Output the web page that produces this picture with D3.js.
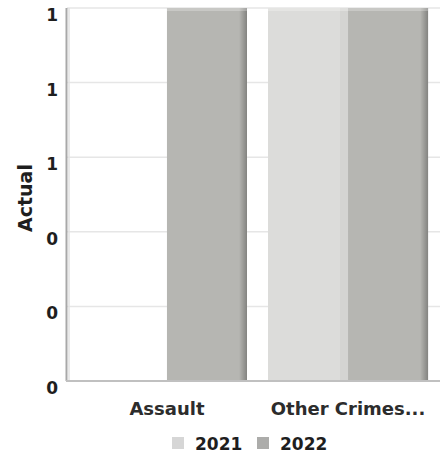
<!DOCTYPE html>
<html>
<head>
<meta charset="utf-8">
<script src="https://cdn.jsdelivr.net/npm/d3@7"></script>
<style>
  html, body { margin: 0; padding: 0; background: #fff; }
  svg { display: block; }
  text { font-family: "DejaVu Sans", Verdana, sans-serif; fill: #222; }
</style>
</head>
<body>
<svg id="chart" width="445" height="460"></svg>
<script>
// Crime counts per category, one series per year
const categories = ["Assault", "Other Crimes..."];
const years = ["2021", "2022"];
const values2021 = [0, 1];
const values2022 = [1, 1];
const yTicks = [0, 0.2, 0.4, 0.6, 0.8, 1];
const yTitle = "Actual";

const colors = { "2021": "#dcdcda", "2022": "#b6b6b2" };
const edges = { "2021": "#cbcbc9", "2022": "#8e8e8a" };
const swatch = { "2021": "#d6d6d6", "2022": "#acacaa" };

const svg = d3.select("#chart");
const margin = { top: 8, right: 5, bottom: 79, left: 67 };
const W = 445, H = 460;
const iw = W - margin.left - margin.right;
const ih = H - margin.top - margin.bottom;

const defs = svg.append("defs");
const grad = defs.append("linearGradient").attr("id", "edgeShade").attr("x1", 0).attr("x2", 1);
grad.append("stop").attr("offset", 0).attr("stop-color", "#000").attr("stop-opacity", 0);
grad.append("stop").attr("offset", 1).attr("stop-color", "#000").attr("stop-opacity", 0.28);

const g = svg.append("g").attr("transform", `translate(${margin.left},${margin.top})`);

const x0 = d3.scaleBand().domain(categories).range([0, iw + 8]).paddingInner(0.116).paddingOuter(0.11);
const x1 = d3.scaleBand().domain(years).range([0, x0.bandwidth()]).padding(0);
const y = d3.scaleLinear().domain([0, 1]).range([ih, 0]);

// gridlines
g.append("g").selectAll("line").data(yTicks.slice(1)).join("line")
  .attr("x1", 0).attr("x2", iw)
  .attr("y1", d => y(d)).attr("y2", d => y(d))
  .attr("stroke", "#e6e6e6").attr("stroke-width", 1.5);

// bars
const rows = categories.map((c, i) => ({ cat: c, vals: [
  { year: "2021", v: values2021[i] },
  { year: "2022", v: values2022[i] }
]}));

const groups = g.append("g").selectAll("g").data(rows).join("g")
  .attr("transform", d => `translate(${x0(d.cat)},0)`);

groups.selectAll("rect.bar").data(d => d.vals.filter(o => o.v > 0)).join("rect")
  .attr("class", "bar")
  .attr("x", d => x1(d.year))
  .attr("y", d => y(d.v))
  .attr("width", x1.bandwidth())
  .attr("height", d => y(0) - y(d.v))
  .attr("fill", d => colors[d.year]);

// darker shading along the right edge of each bar
groups.selectAll("rect.edge").data(d => d.vals.filter(o => o.v > 0)).join("rect")
  .attr("class", "edge")
  .attr("x", d => x1(d.year) + x1.bandwidth() - 8)
  .attr("y", d => y(d.v))
  .attr("width", 8)
  .attr("height", d => y(0) - y(d.v))
  .attr("fill", d => d.year === "2022" ? "url(#edgeShade)" : edges[d.year])
  .attr("opacity", d => d.year === "2022" ? 1 : 0.5);

// lighter top rim of each bar
groups.selectAll("rect.rim").data(d => d.vals.filter(o => o.v > 0)).join("rect")
  .attr("class", "rim")
  .attr("x", d => x1(d.year))
  .attr("y", d => y(d.v))
  .attr("width", x1.bandwidth())
  .attr("height", 3)
  .attr("fill", "#fff").attr("opacity", 0.25);

// y axis
const yAxis = d3.axisLeft(y).tickValues(yTicks).tickFormat(d3.format(".0f")).tickSize(0).tickPadding(9);
const ya = g.append("g").call(yAxis);
ya.select(".domain").remove();
ya.selectAll("text")
  .attr("dy", "0.32em").attr("y", 7)
  .style("font-size", "17px").style("font-weight", "bold").style("fill", "#1e1e1e");
g.append("line").attr("x1", -0.5).attr("x2", -0.5).attr("y1", 0).attr("y2", ih)
  .attr("stroke", "#a8a8a8").attr("stroke-width", 2);
g.append("line").attr("x1", 2).attr("x2", 2).attr("y1", 0).attr("y2", ih)
  .attr("stroke", "#e2e2e2").attr("stroke-width", 1.5);

// x axis
const xAxis = d3.axisBottom(x0).tickSize(0).tickPadding(21);
const xa = g.append("g").attr("transform", `translate(0,${ih})`).call(xAxis);
xa.select(".domain").remove();
xa.selectAll("text").style("font-size", "18px").style("font-weight", "bold").style("fill", "#2c2c2c");
g.append("line").attr("x1", -1).attr("x2", iw).attr("y1", ih).attr("y2", ih)
  .attr("stroke", "#c0c0c0").attr("stroke-width", 2);

// y title
svg.append("text")
  .attr("transform", `translate(32,198) rotate(-90)`)
  .attr("text-anchor", "middle")
  .style("font-size", "19px").style("font-weight", "bold").style("fill", "#1e1e1e")
  .text(yTitle);

// legend
const legend = svg.append("g").attr("transform", "translate(0,450)");
const legendItems = [{ year: "2021", x: 172 }, { year: "2022", x: 257 }];
const li = legend.selectAll("g").data(legendItems).join("g")
  .attr("transform", d => `translate(${d.x},0)`);
li.append("rect").attr("x", 0).attr("y", -13).attr("width", 12).attr("height", 12)
  .attr("fill", d => swatch[d.year]);
li.append("text").attr("x", 23).attr("y", 0)
  .style("font-size", "17px").style("font-weight", "bold").style("fill", "#1e1e1e")
  .text(d => d.year);
</script>
</body>
</html>
